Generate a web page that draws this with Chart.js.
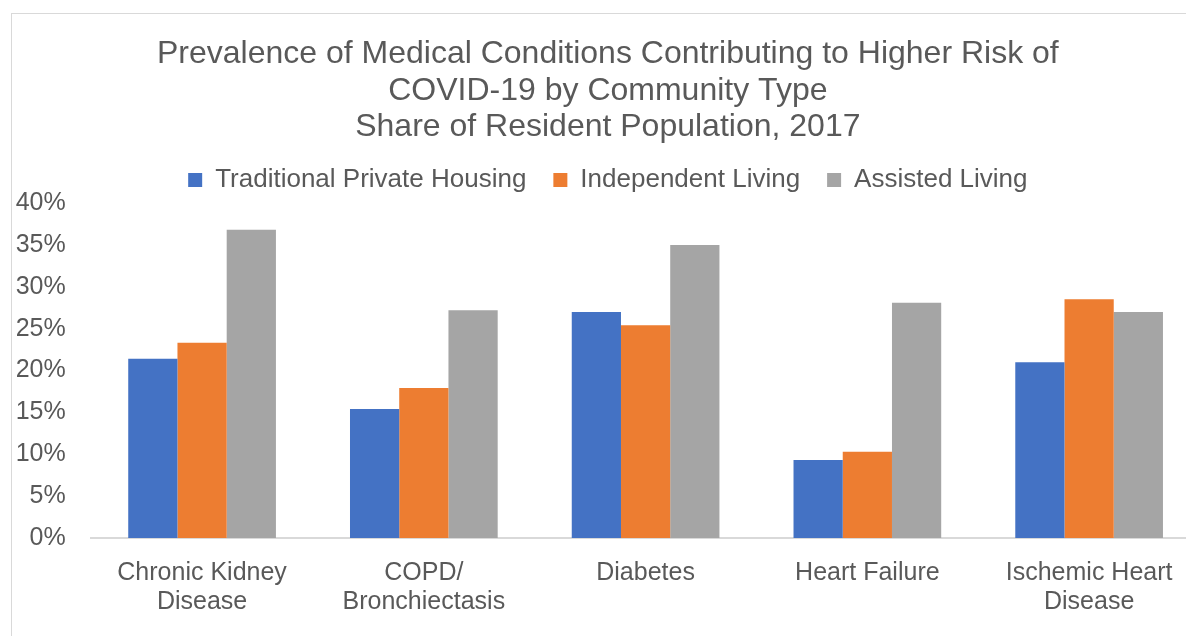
<!DOCTYPE html>
<html>
<head>
<meta charset="utf-8">
<script src="https://cdn.jsdelivr.net/npm/chart.js@4"></script>
<style>
  html, body { margin: 0; padding: 0; background: #fff; overflow: hidden; }
  body { width: 1186px; height: 636px; position: relative; }
  #frame { position: absolute; left: 11px; top: 13px; width: 1400px; height: 800px; border-left: 1px solid #d9d9d9; border-top: 1px solid #d9d9d9; }
  #wrap { position: absolute; left: 5px; top: 0px; width: 1200px; height: 636px; }
</style>
</head>
<body>
<div id="frame"></div>
<div id="wrap"><canvas id="c" width="1200" height="636"></canvas></div>
<script>
const categories = [
  ["Chronic Kidney", "Disease"],
  ["COPD/", "Bronchiectasis"],
  "Diabetes",
  "Heart Failure",
  ["Ischemic Heart", "Disease"]
];
const seriesNames = ["Traditional Private Housing", "Independent Living", "Assisted Living"];
const traditionalPrivateHousing = [21.4, 15.4, 27.0, 9.3, 21.0];
const independentLiving = [23.3, 17.9, 25.4, 10.3, 28.5];
const assistedLiving = [36.8, 27.2, 35.0, 28.1, 27.0];
const yTicks = [0, 5, 10, 15, 20, 25, 30, 35, 40];
const titleLines = [
  "Prevalence of Medical Conditions Contributing to Higher Risk of",
  "COVID-19 by Community Type",
  "Share of Resident Population, 2017"
];

const txt = '#595959';
const fam = '"Liberation Sans", Arial, Helvetica, sans-serif';

const chart = new Chart(document.getElementById('c'), {
  type: 'bar',
  data: {
    labels: categories,
    datasets: [
      { label: seriesNames[0], data: traditionalPrivateHousing, backgroundColor: '#4472C4' },
      { label: seriesNames[1], data: independentLiving, backgroundColor: '#ED7D31' },
      { label: seriesNames[2], data: assistedLiving, backgroundColor: '#A5A5A5' }
    ]
  },
  options: {
    responsive: false,
    animation: false,
    datasets: { bar: { barPercentage: 1.0, categoryPercentage: 0.666, borderWidth: 0 } },
    layout: { padding: { top: 26, left: 10.7, right: 5, bottom: -1 } },
    plugins: {
      title: {
        display: true,
        text: titleLines,
        color: txt,
        font: { family: fam, size: 32, weight: 'normal', lineHeight: 1.15 },
        padding: { top: 9.6, bottom: -6 }
      },
      legend: {
        display: true,
        position: 'top',
        labels: {
          color: txt,
          font: { family: fam, size: 26 },
          boxWidth: 14,
          boxHeight: 14,
          padding: 27
        }
      },
      tooltip: { enabled: false }
    },
    scales: {
      x: {
        grid: { display: false, drawTicks: false },
        border: { display: true, color: '#d9d9d9', width: 2 },
        ticks: { color: txt, font: { family: fam, size: 25, lineHeight: 1.16 }, padding: 20.5, maxRotation: 0, autoSkip: false },
        afterFit: (s) => { s.paddingLeft = 0; s.paddingRight = 0; }
      },
      y: {
        min: 0,
        max: 40,
        afterBuildTicks: (axis) => { axis.ticks = yTicks.map(v => ({ value: v })); },
        grid: { display: false, drawTicks: false },
        border: { display: false },
        ticks: { color: txt, font: { family: fam, size: 25 }, padding: 25.5, callback: (v) => v + '%' },
        afterFit: (s) => { s.width = 75.5; }
      }
    }
  }
});
</script>
</body>
</html>
